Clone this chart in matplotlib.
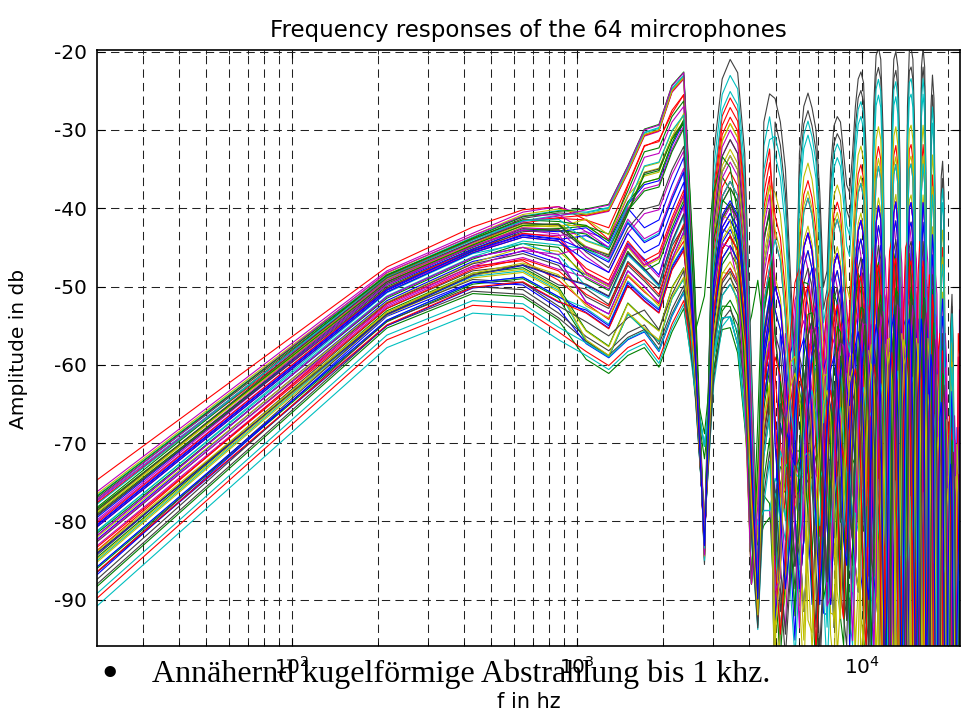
import numpy as np
import matplotlib
matplotlib.use("Agg")
import matplotlib.pyplot as plt
from matplotlib.ticker import LogLocator, NullFormatter

plt.rcParams['axes.unicode_minus'] = False

# frequency grid: first point at the left edge, then FFT bins of ~215 Hz
freq_hz = [20.7] + [215.3 * k for k in range(1, 103)]

# low-frequency shapes (first 12 grid points)
lf_shapes = [
    [-74.7, -47.5, -42.4, -40.2, -39.8, -41.5, -44.0, -37.2, -32.1, -31.3, -27.9, -25.5],  # red top
    [-77.0, -48.8, -44.0, -41.3, -40.6, -40.8, -40.2, -35.3, -30.6, -30.0, -25.0, -23.3],
    [-78.2, -49.2, -44.5, -42.0, -41.8, -43.0, -44.0, -38.5, -33.5, -33.0, -29.0, -27.0],
    [-79.5, -49.8, -45.2, -42.8, -43.0, -44.5, -46.5, -41.5, -39.0, -38.5, -34.0, -31.0],
    [-81.0, -51.0, -46.0, -44.0, -44.5, -46.5, -48.0, -43.0, -45.5, -44.5, -40.0, -36.5],
    [-82.8, -52.3, -47.3, -46.0, -47.5, -50.5, -52.0, -46.5, -48.5, -50.5, -45.0, -41.5],
    [-85.0, -53.5, -48.7, -48.0, -50.5, -54.0, -56.0, -50.5, -52.5, -54.0, -48.5, -46.0],
    [-88.0, -55.0, -50.6, -51.0, -54.0, -57.0, -58.8, -56.5, -55.5, -58.0, -53.5, -50.5],
]

# high-frequency part (grid points 12..102)
hf_upper = [
    -50, -85.5, -33, -23.5, -21, -22.7, -33, -60, -85, -29,
    -25.4, -26, -29, -35, -48, -60, -33, -27, -25.3, -27.2,
    -30, -38, -50, -48, -35, -29.5, -28.3, -29, -33, -37,
    -38, -33, -27, -23.5, -22.6, -24, -33, -52, -48, -27,
    -20.5, -19.5, -21, -30, -60, -95, -58, -28, -21, -20,
    -22, -33, -65, -100, -60, -27, -20, -19.5, -21, -30,
    -70, -100, -45, -22, -19.5, -22, -40, -100, -60, -27,
    -23, -26, -45, -100, -105, -62, -36, -34, -38, -70,
    -105, -105, -70, -55, -51, -58, -85, -105, -100, -80, -70,
]
hf_upper_c = [
    -45, -82, -30, -26, -28, -35, -55, -88, -60, -32,
    -30, -33, -40, -58, -75, -45, -34, -31, -33, -40,
    -55, -80, -62, -40, -33, -32, -36, -48, -70, -85,
    -55, -38, -31, -29, -32, -42, -65, -90, -55, -33,
    -27, -28, -36, -60, -100, -70, -35, -27, -26, -30,
    -45, -85, -100, -50, -30, -25, -26, -32, -55, -100,
    -90, -38, -26, -25, -30, -55, -100, -80, -35, -30,
    -31, -40, -80, -110, -70, -42, -38, -42, -60, -100,
    -110, -85, -60, -52, -56, -75, -105, -110, -90, -75, -80,
]
hf_shift = [
    -55, -48, -33, -33, -35, -42, -55, -50, -44, -52,
    -66, -70, -58, -50, -47, -50, -62, -76, -80, -70,
    -58, -50, -47, -50, -62, -80, -90, -78, -60, -52,
    -50, -54, -68, -88, -95, -80, -60, -52, -53, -64,
    -85, -100, -92, -68, -56, -53, -58, -75, -95, -105,
    -90, -66, -55, -53, -60, -80, -100, -105, -95, -68,
    -56, -55, -65, -90, -105, -92, -62, -54, -58, -80,
    -100, -90, -62, -55, -56, -70, -95, -100, -85, -60,
    -56, -58, -75, -100, -100, -80, -62, -60, -64, -80, -95,
]
hf_lower = [
    -66, -80, -70, -63, -62, -64, -72, -88, -96, -90,
    -84, -86, -88, -98, -106, -92, -80, -72, -70, -73,
    -82, -98, -108, -95, -82, -74, -72, -76, -86, -102,
    -106, -90, -78, -72, -70, -73, -84, -102, -108, -85,
    -74, -70, -72, -80, -98, -110, -94, -78, -70, -68,
    -72, -82, -100, -110, -92, -77, -70, -69, -72, -84,
    -102, -110, -90, -75, -69, -72, -88, -110, -98, -80,
    -74, -76, -90, -110, -110, -92, -80, -78, -82, -98,
    -110, -110, -95, -84, -82, -86, -102, -110, -110, -98, -92,
]
hf_tops = [hf_upper, hf_shift, hf_upper_c]

# per microphone values
mic_shape = [5, 4, 0, 1, 1, 2, 1, 4, 6, 2, 6, 3, 2, 7, 5, 3,
             1, 6, 3, 4, 6, 7, 2, 4, 1, 5, 1, 5, 6, 6, 5, 4,
             2, 6, 7, 3, 7, 6, 7, 4, 3, 2, 5, 1, 4, 7, 5, 3,
             7, 6, 2, 7, 5, 1, 6, 5, 4, 3, 6, 2, 4, 5, 3, 4]
mic_offset = [0.5, -0.5, 0.0, 0.3, 0.8, -0.2, 0.0, 0.5, -1.0, 0.5, 0.0, -0.5, -0.4, 0.0, 1.0, 0.2,
              -0.6, -0.8, 0.3, -1.0, 0.7, 1.2, -0.8, 0.8, -0.3, -0.3, 0.5, 0.2, -1.5, 0.4, -0.5, -0.2,
              1.0, -0.2, 1.5, 0.0, -0.3, 1.3, -2.8, 1.2, 0.8, -1.0, -1.3, 0.2, 0.3, -1.2, 1.0, 0.6,
              0.6, -0.8, -0.2, -1.8, 1.5, -0.4, 0.2, -1.2, 0.3, 1.3, -1.4, 0.4, -1.4, -1.0, 0.9, 0.6]
mic_mid_dev = [1.5, -2, 0, 0, -1, -1, 0, 2.5, -2, 1, -3, 2, -1.5, 0, -2.5, 1,
               0.5, 2, -2, -1, 3, -1.5, 1.5, -2.5, 0.5, 2, -0.5, -1, 2.5, -2, 0, 1.5,
               -1, -1.5, 1, 2, -2, 0.5, 1, -3, 1.5, -1, 2, 0.5, -1.5, 1, -2.5, 2.5,
               0, 1.5, -2, 0.5, -1, 1, -3, 2, -0.5, 1, 2, -1.5, 3, -1, -2, 0.5]
mic_hf_level = [0.45, 0.9, 0.85, 0.95, 0.75, 0.8, 1.0, 0.55, 0.4, 0.82, 0.3, 0.6, 0.72, 0.3, 0.5, 0.35,
                0.88, 0.35, 0.62, 0.55, 0.42, 0.45, 0.6, 0.65, 0.9, 0.3, 0.8, 0.45, 0.5, 0.25, 0.45, 0.3,
                0.68, 0.4, 0.32, 0.7, 0.25, 0.55, 0.2, 0.52, 0.7, 0.75, 0.47, 0.8, 0.62, 0.3, 0.54, 0.6,
                0.22, 0.42, 0.55, 0.35, 0.3, 0.78, 0.48, 0.34, 0.52, 0.65, 0.45, 0.62, 0.5, 0.37, 0.55, 0.56]
mic_hf_level_hi = [0.3, 0.5, 0.75, 0.88, 0.45, 0.8, 1.0, 0.35, 0.25, 0.6, 0.4, 0.5, 0.55, 0.95, 0.3, 0.45,
                   0.7, 0.3, 0.55, 0.35, 0.2, 0.5, 0.3, 0.45, 0.92, 0.5, 0.72, 0.25, 0.35, 0.4, 0.3, 0.45,
                   0.6, 0.2, 0.3, 0.55, 0.15, 0.4, 0.25, 0.35, 0.62, 0.5, 0.25, 0.55, 0.5, 0.15, 0.4, 0.3,
                   0.2, 0.3, 0.35, 0.45, 0.45, 0.6, 0.25, 0.15, 0.6, 0.45, 0.2, 0.7, 0.4, 0.2, 0.35, 0.3]
mic_hf_shift = [2, 0, 0, 0, -2, 0, 0, 1, 3, 0, -1, 2, 0, 0, -3, 1,
                0, 2, -1, 3, -2, 1, 2, -1, 0, 3, 0, -2, 1, -3, 2, -1,
                0, 3, 1, 0, -2, 2, 1, -1, 0, 0, 3, 0, -2, 1, 2, -3,
                -1, 2, 1, 0, -2, 0, 3, -1, 0, 1, -2, 0, 2, -3, 1, -1]
mic_pattern = [0, 1, 0, 0, 0, 0, 0, 2, 0, 0, 1, 0, 0, 0, 0, 1,
               0, 0, 0, 2, 0, 0, 0, 0, 0, 1, 0, 0, 0, 1, 0, 1,
               0, 2, 0, 0, 0, 0, 0, 0, 0, 0, 0, 2, 0, 0, 0, 2,
               0, 0, 0, 0, 1, 0, 0, 0, 0, 2, 0, 0, 2, 0, 0, 0]

colors = [(0, 0, 1), (0, 0.5, 0), (1, 0, 0), (0, 0.75, 0.75),
          (0.75, 0, 0.75), (0.75, 0.75, 0), (0.25, 0.25, 0.25)]

fig = plt.figure(figsize=(9.62, 7.13), dpi=100)
ax = fig.add_axes([97 / 962, 67 / 713, 863 / 962, 596 / 713])

lower = np.array(hf_lower)
n_mid = 11   # grid points 12..22 use the first level, the rest the second
for i in range(64):
    lf = np.array(lf_shapes[mic_shape[i]]) + mic_offset[i]
    lf[5:] += mic_mid_dev[i]
    top = np.array(hf_tops[mic_pattern[i]])
    level = np.r_[np.full(n_mid, mic_hf_level[i]), np.full(len(lower) - n_mid, mic_hf_level_hi[i])]
    hf = lower + level * (top - lower)
    hf[n_mid:] = np.roll(hf[n_mid:], mic_hf_shift[i])
    ax.plot(freq_hz, np.concatenate([lf, hf]), color=colors[i % 7], lw=0.8)

ax.set_xscale('log')
ax.set_xlim(20.7, 22050)
ax.set_ylim(-95.9, -19.8)
ax.set_yticks(range(-90, -19, 10))
ax.xaxis.set_major_locator(LogLocator(base=10, numticks=10))
ax.xaxis.set_minor_locator(LogLocator(base=10, subs=range(2, 10), numticks=40))
ax.xaxis.set_minor_formatter(NullFormatter())

grid_kw = dict(color='#222222', lw=0.75, linestyle=(0, (8, 5)))
ax.grid(True, which='both', axis='x', **grid_kw)
ax.grid(True, which='major', axis='y', **grid_kw)
ax.set_axisbelow(True)

ax.tick_params(which='both', direction='in', top=True, right=True, labelsize=14.5, pad=7)
ax.tick_params(which='major', length=6)
ax.tick_params(which='minor', length=3)
for s in ax.spines.values():
    s.set_linewidth(1.2)

ax.set_title('Frequency responses of the 64 mircrophones', fontsize=16.5, pad=9)
fig.text(529 / 962, 1 - 702 / 713, 'f in hz', ha='center', va='center', fontsize=15)
fig.text(19 / 962, 1 - 349 / 713, 'Amplitude in db', ha='center', va='center',
         rotation=90, fontsize=14.5)

fig.text(101 / 962, 1 - 687 / 713, '\u2022', fontsize=34, family='Liberation Serif',
         va='baseline')
fig.text(152 / 962, 1 - 682 / 713, 'Annähernd kugelförmige Abstrahlung bis 1 khz.',
         fontsize=23, family='Liberation Serif', va='baseline')

fig.savefig('out.png', dpi=100)
